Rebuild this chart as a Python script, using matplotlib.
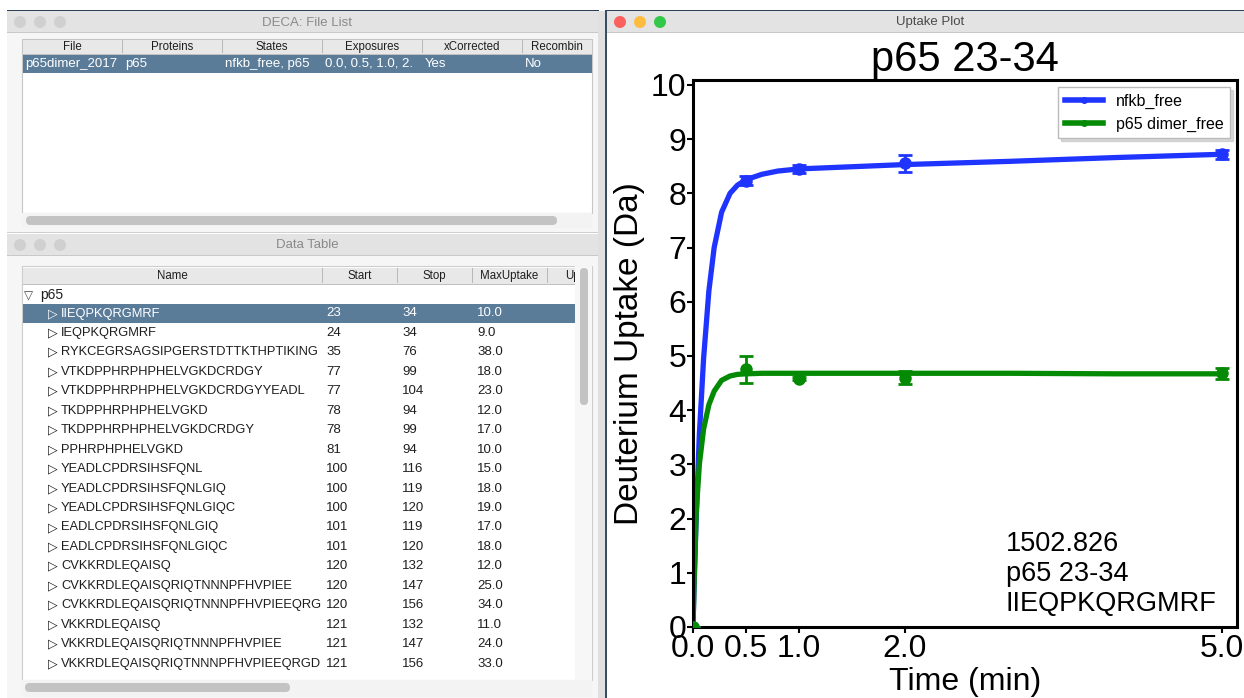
import matplotlib
matplotlib.use("Agg")
import matplotlib.pyplot as plt
from matplotlib.patches import Rectangle, Circle, FancyBboxPatch
from matplotlib.lines import Line2D

plt.rcParams['font.family'] = ['Liberation Sans', 'DejaVu Sans']

# --- file list window ---
file_columns = ["File", "Proteins", "States", "Exposures", "xCorrected", "Recombin"]
file_row = ["p65dimer_2017", "p65", "nfkb_free, p65", "0.0, 0.5, 1.0, 2.", "Yes", "No"]

# --- data table window ---
table_columns = ["Name", "Start", "Stop", "MaxUptake", "Uptake"]
peptides = ["IIEQPKQRGMRF", "IEQPKQRGMRF", "RYKCEGRSAGSIPGERSTDTTKTHPTIKING",
            "VTKDPPHRPHPHELVGKDCRDGY", "VTKDPPHRPHPHELVGKDCRDGYYEADL",
            "TKDPPHRPHPHELVGKD", "TKDPPHRPHPHELVGKDCRDGY", "PPHRPHPHELVGKD",
            "YEADLCPDRSIHSFQNL", "YEADLCPDRSIHSFQNLGIQ", "YEADLCPDRSIHSFQNLGIQC",
            "EADLCPDRSIHSFQNLGIQ", "EADLCPDRSIHSFQNLGIQC", "CVKKRDLEQAISQ",
            "CVKKRDLEQAISQRIQTNNNPFHVPIEE", "CVKKRDLEQAISQRIQTNNNPFHVPIEEQRG",
            "VKKRDLEQAISQ", "VKKRDLEQAISQRIQTNNNPFHVPIEE", "VKKRDLEQAISQRIQTNNNPFHVPIEEQRGD"]
starts = [23, 24, 35, 77, 77, 78, 78, 81, 100, 100, 100, 101, 101, 120, 120, 120, 121, 121, 121]
stops = [34, 34, 76, 99, 104, 94, 99, 94, 116, 119, 120, 119, 120, 132, 147, 156, 132, 147, 156]
max_uptake = [10.0, 9.0, 38.0, 18.0, 23.0, 12.0, 17.0, 10.0, 15.0, 18.0, 19.0,
              17.0, 18.0, 12.0, 25.0, 34.0, 11.0, 24.0, 33.0]

# --- uptake plot ---
times = [0.0, 0.5, 1.0, 2.0, 5.0]
nfkb_mean = [0.0, 8.23, 8.45, 8.55, 8.72]
nfkb_err = [0.0, 0.08, 0.08, 0.15, 0.08]
dimer_mean = [0.0, 4.75, 4.58, 4.60, 4.68]
dimer_err = [0.0, 0.25, 0.03, 0.12, 0.10]
fit_t = [0.0, 0.01, 0.03, 0.06, 0.1, 0.15, 0.2, 0.27, 0.35, 0.42, 0.5, 0.65, 0.8, 1.0,
         1.5, 2.0, 3.0, 4.0, 5.0]
nfkb_fit = [0.0, 0.75, 2.0, 3.55, 4.95, 6.2, 7.0, 7.65, 8.0, 8.15, 8.25, 8.35, 8.41, 8.45,
            8.49, 8.53, 8.59, 8.66, 8.72]
dimer_fit = [0.0, 0.8, 2.1, 3.0, 3.65, 4.1, 4.35, 4.55, 4.63, 4.66, 4.67, 4.68, 4.68, 4.68,
             4.68, 4.68, 4.68, 4.67, 4.67]
info_lines = ["1502.826", "p65 23-34", "IIEQPKQRGMRF"]

W, H = 1244, 698
fig = plt.figure(figsize=(W / 100, H / 100), dpi=100)
bg = fig.add_axes([0, 0, 1, 1])
bg.set_xlim(0, W)
bg.set_ylim(H, 0)
bg.axis('off')

def rect(x0, y0, x1, y1, fc, ec='none', lw=0, z=1):
    r = Rectangle((x0, y0), x1 - x0, y1 - y0, facecolor=fc, edgecolor=ec, linewidth=lw, zorder=z)
    bg.add_patch(r)
    return r

def clip_text(t, x0, y0, x1, y1):
    t.set_clip_path(rect(x0, y0, x1, y1, 'none', z=0))
    t.set_clip_on(True)

def pill(x0, y0, x1, y1, fc, z=3):
    r = min(x1 - x0, y1 - y0) / 2
    p = FancyBboxPatch((x0 + r, y0 + r), x1 - x0 - 2 * r, y1 - y0 - 2 * r,
                       boxstyle="round,pad=%f,rounding_size=%f" % (r, r),
                       facecolor=fc, edgecolor='none', zorder=z)
    bg.add_patch(p)

def title_bar(x0, x1, y0, y1, title, lights, tcolor):
    rect(x0, y0, x1, y1, '#e3e3e3', z=2)
    rect(x0, y1 - 1, x1, y1, '#c9c9c9', z=2)
    cy = (y0 + y1) / 2
    for i, c in enumerate(lights):
        bg.add_patch(Circle((x0 + 13 + 20 * i, cy), 6, facecolor=c, edgecolor='none', zorder=3))
    bg.text((x0 + x1) / 2 + 5, cy + 0.5, title, ha='center', va='center', fontsize=9.5,
            color=tcolor, zorder=3)

grey_lights = ['#d0d0d0'] * 3
sel = '#5b7c99'
txt = '#1e1e1e'

# frame / desktop
rect(0, 0, W, H, 'white', z=0)
rect(7, 10, 599, 11, '#2b3f57', z=2)
rect(606, 10, W, 11, '#2b3f57', z=2)
rect(605, 10, 607, H, '#3a4d63', z=4)
rect(598, 11, 605, H, '#e0e0e0', z=1)

# window 1: file list
rect(7, 11, 598, 233, '#f6f6f6', z=1)
title_bar(7, 598, 11, 33, "DECA: File List", grey_lights, '#8a8a8a')
rect(22, 39, 592, 213, 'white', ec='#c6c6c6', lw=0.8, z=2)
rect(23, 40, 592, 54, '#e8e8e8', z=2)
rect(23, 53.5, 592, 54.5, '#c0c0c0', z=2)
col_x = [22, 122, 222, 322, 422, 522, 592]
for i, name in enumerate(file_columns):
    x0, x1 = col_x[i], col_x[i + 1]
    if i > 0:
        rect(x0, 40, x0 + 1, 53, '#b8b8b8', z=3)
    bg.text((x0 + x1) / 2, 47, name, ha='center', va='center', fontsize=8.3, color=txt,
            zorder=3)
rect(23, 54.5, 592, 73, sel, z=2)
for i, val in enumerate(file_row):
    t = bg.text(col_x[i] + 3, 64, val, ha='left', va='center', fontsize=9.5,
                color='white', zorder=3)
    clip_text(t, col_x[i], 54, col_x[i + 1], 74)
rect(22, 213, 592, 228, '#f3f3f3', z=2)
pill(26, 216, 557, 225, '#c3c3c3')
rect(7, 232, 598, 233, '#cfcfcf', z=2)

# window 2: data table
rect(7, 234, 598, H, '#f6f6f6', z=1)
title_bar(7, 598, 234, 256, "Data Table", grey_lights, '#8a8a8a')
rect(22, 266, 592, 680, 'white', ec='#cdcdcd', lw=0.8, z=2)
rect(23, 268, 575, 284, '#e8e8e8', z=2)
rect(23, 283.5, 575, 284.5, '#c0c0c0', z=2)
tcol_x = [22, 322, 397, 472, 547, 575]
for i, name in enumerate(table_columns):
    x0, x1 = tcol_x[i], tcol_x[i + 1]
    if i > 0:
        rect(x0, 268, x0 + 1, 283, '#b8b8b8', z=3)
    if i == 4:
        t = bg.text(x0 + 18, 276, name, ha='left', va='center', fontsize=8.3,
                    color=txt, zorder=3)
        clip_text(t, x0, 268, x1, 284)
    else:
        bg.text((x0 + x1) / 2, 276, name, ha='center', va='center', fontsize=8.3,
                color=txt, zorder=3)
rect(575, 266, 592, 680, '#f7f7f7', z=2)
pill(580, 268, 588, 405, '#c3c3c3')
bg.text(24, 296, "\u25BD", ha='left', va='center', fontsize=8.5, color='#444444',
        family=['DejaVu Sans'], zorder=3)
bg.text(40, 295, "p65", ha='left', va='center', fontsize=10, color=txt, zorder=3)

row_y0, row_h = 313.5, 19.45
for k, pep in enumerate(peptides):
    y = row_y0 + k * row_h
    c = txt
    if k == 0:
        rect(23, y - 9.5, 575, y + 9.5, sel, z=2)
        c = 'white'
    bg.text(48, y, "\u25B7", ha='left', va='center', fontsize=9, color=c,
            family=['DejaVu Sans'], zorder=3)
    t = bg.text(61, y, pep, ha='left', va='center', fontsize=9.3, color=c, zorder=3)
    clip_text(t, 22, y - 10, 322, y + 10)
    bg.text(326, y, str(starts[k]), ha='left', va='center', fontsize=9.5, color=c, zorder=3)
    bg.text(402, y, str(stops[k]), ha='left', va='center', fontsize=9.5, color=c, zorder=3)
    bg.text(477, y, "%.1f" % max_uptake[k], ha='left', va='center', fontsize=9.5,
            color=c, zorder=3)
rect(22, 680, 592, 697, '#f3f3f3', z=2)
pill(25, 683, 290, 692, '#c3c3c3')

# window 3: uptake plot
rect(607, 11, W, H, 'white', z=1)
title_bar(607, W, 11, 33, "Uptake Plot", ['#fc605c', '#fdbc40', '#34c84a'], '#4a4a4a')

blue, green = '#1f35ff', '#058a05'
ax = fig.add_axes([693 / W, (H - 627) / H, (1237 - 693) / W, (627 - 80) / H])
ax.plot(fit_t, nfkb_fit, color=blue, lw=3.8, zorder=2, solid_capstyle='round')
ax.plot(fit_t, dimer_fit, color=green, lw=3.8, zorder=2, solid_capstyle='round')
ax.errorbar(times, nfkb_mean, yerr=nfkb_err, fmt='o', color=blue, ms=8, capsize=5,
            elinewidth=2, capthick=2, zorder=3)
ax.errorbar(times, dimer_mean, yerr=dimer_err, fmt='o', color=green, ms=8, capsize=5,
            elinewidth=2, capthick=2, zorder=3)
ax.set_xlim(0, 5.14)
ax.set_ylim(0, 10.09)
ax.set_xticks(times)
ax.set_xticklabels(["%.1f" % t for t in times])
ax.set_yticks(range(0, 11))
ax.tick_params(labelsize=23, length=4, width=1.5, pad=1)
for s in ax.spines.values():
    s.set_linewidth(2.2)
ax.set_xlabel("Time (min)", fontsize=23, labelpad=2)
ax.set_ylabel("Deuterium Uptake (Da)", fontsize=24, labelpad=4)
ax.set_title("p65 23-34", fontsize=30, pad=1)
ax.text(0.575, 0.097, "\n".join(info_lines), transform=ax.transAxes, fontsize=19.5,
        linespacing=1.2, va='center', ha='left')
handles = [Line2D([], [], color=blue, lw=4, marker='o', ms=4),
           Line2D([], [], color=green, lw=4, marker='o', ms=4)]
ax.legend(handles, ["nfkb_free", "p65 dimer_free"], loc='upper right', fontsize=11.5,
          handlelength=2.4, borderaxespad=0.45, fancybox=False, edgecolor='#bbbbbb',
          framealpha=1, shadow={'color': '0.75', 'alpha': 0.6})

fig.savefig("out.png", dpi=100)
